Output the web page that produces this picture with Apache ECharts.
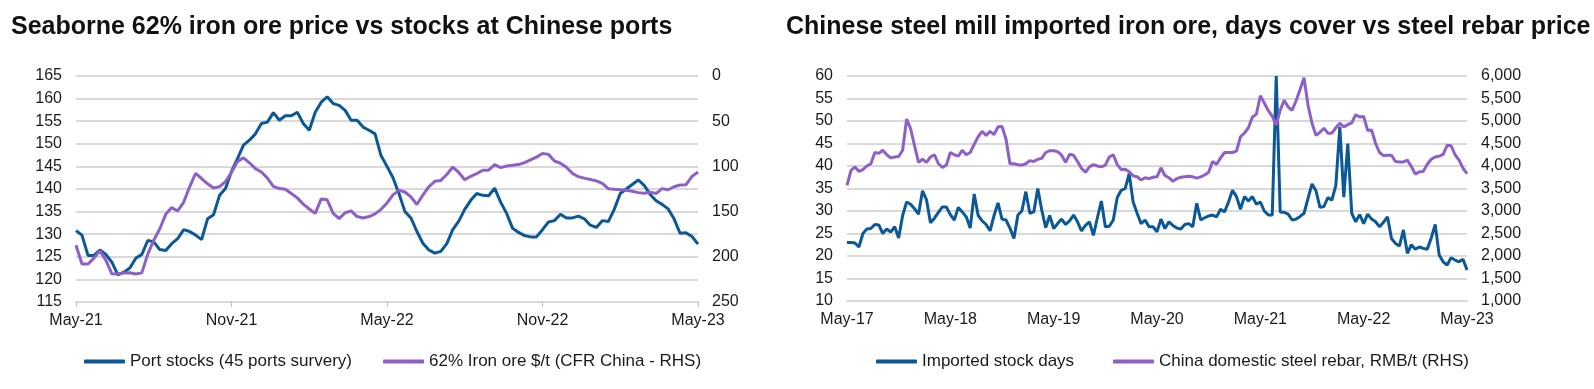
<!DOCTYPE html>
<html><head><meta charset="utf-8">
<script src="https://cdn.jsdelivr.net/npm/echarts@6/dist/echarts.min.js"></script>
<style>html,body{margin:0;padding:0;background:#fff}#c{width:1594px;height:389px}</style>
</head><body><div id="c"></div><script>
const leftTickLabels=['May-21','Nov-21','May-22','Nov-22','May-23'];
const rightTickLabels=['May-17','May-18','May-19','May-20','May-21','May-22','May-23'];

// Weekly, May-21 .. May-23
const portStocks=[130.8,129.8,125.3,125.3,126.5,125.5,123.8,121,121.6,122.5,
124.7,125.5,128.6,128.3,126.6,126.4,127.9,129,131,130.6,
129.8,128.8,133.4,134.3,138.6,140.1,143.9,146.7,149.7,150.8,
152.2,154.5,154.8,156.9,155.2,156.2,156.2,157,154.5,153,
157,159.2,160.4,158.9,158.5,157.4,155.2,155.2,153.7,153,
152.2,147.4,145,142.5,139,135,133.6,130.6,128,126.5,
125.8,126.2,127.9,131,132.9,135.5,137.5,139,138.6,138.5,
140.2,137.1,134.6,131.3,130.4,129.7,129.4,129.4,131,132.7,
133,134.4,133.6,133.6,134,133.4,132,131.5,133,132.8,
135.5,139,140,141,142,140.8,138.8,137.4,136.6,135.6,
133.4,130.2,130.3,129.5,127.8];
const ironOre=[187.3,208,208,201.5,193.4,204,218.8,219,217.8,217.6,
219,217.8,197,181.6,169.3,153,145.6,149.3,139.7,122.6,
107.8,113.4,119.3,123.9,122.4,116.8,106.5,94.7,90.5,96,
102.5,106.2,113,122,124.5,125.2,130,134.8,141.7,147.1,
152,136,137,152,157.8,151.3,149.2,155.5,157,155.5,
152.5,147.5,140.5,131.5,126.5,128.3,133.8,142.1,131.7,122.5,
116.5,115.5,109,100.7,106.7,114.7,110.9,108,104.2,104.2,
98,101.4,99.6,98.8,98,95.9,92.8,89.7,85.8,86.7,
94,96.5,101,107.7,111.4,113,114.4,116,118.7,124.7,
125.4,125.8,126.4,127.4,129,129.8,128.5,130,124.6,125.8,
122.5,120.6,120.2,111,106.2];

// Fortnightly, May-17 .. May-23
const stockDays=[23,23,22.9,22,25,26,26.1,27,26.9,25,
26,25.3,26.5,24,29,32,31.5,30.5,29.3,34.5,
32.5,27.4,28.4,29.7,30.9,30.9,29.2,28,30.8,29.8,
28.7,26.2,33.8,29,27.8,27,25.6,29,31.8,28.2,
28,26.2,23.9,29.1,30,34.3,29.5,29.8,35,30.2,
26.3,29,26.1,27.2,28.2,27,27.8,29.1,27.6,25.6,
26.8,27.6,24.6,28.5,32.2,26.5,26.6,28,33,34.6,
35,38.3,32,29.5,27.2,28,26.5,26.5,25.4,28.2,
26.1,27.6,26.8,26.2,26,27,27.2,26.5,31.7,28,
28.5,28.9,29.1,28.7,30.4,29.8,32,34.6,33.2,30.4,
33.2,32.2,33.2,31.5,32,30,29.1,29.1,60,29.8,
29.7,29.3,28,28.2,28.8,29.5,32.8,36,34.5,30.8,
31,33,32.4,35.7,48.7,33.1,45,29.5,27.6,29.2,
27.2,29.3,28.2,27.6,26.5,27.5,28.7,23.9,22.8,22.2,
25.8,20.6,22.5,21.5,22,21.7,21.5,24,27,20.2,
18.7,18,19.6,19.1,18.7,19.3,16.9];
const rebar=[3570,3900,3980,3880,3920,4000,4050,4300,4280,4350,
4250,4180,4200,4210,4350,5040,4830,4450,4080,4150,
4080,4200,4250,4050,3970,4020,4300,4250,4220,4350,
4250,4300,4480,4650,4770,4680,4770,4700,4870,4880,
4600,4050,4050,4030,4020,4050,4120,4100,4150,4170,
4300,4340,4340,4320,4240,4080,4260,4240,4100,3950,
3860,3980,4030,4000,3980,4020,4200,4250,4030,3920,
3930,3870,3780,3760,3690,3740,3720,3750,3760,3960,
3790,3740,3660,3720,3750,3760,3770,3760,3730,3760,
3800,3860,4100,4040,4180,4300,4300,4300,4330,4650,
4730,4850,5090,5150,5560,5400,5230,5110,4910,5240,
5460,5310,5240,5450,5700,5960,5350,4950,4680,4750,
4840,4730,4730,4850,4950,4870,4920,4960,5140,5090,
5100,4790,4800,4500,4300,4230,4240,4240,4100,4090,
4090,4130,3990,3820,3870,3880,4040,4150,4200,4220,
4260,4460,4450,4250,4130,3950,3830];

function dates(y,m,d,step,n){const a=[];for(let i=0;i<n;i++){a.push(new Date(Date.UTC(y,m,d+step*i)).toISOString().slice(0,10));}return a;}
const leftCats=dates(2021,4,7,7,portStocks.length);
const rightCats=dates(2017,4,5,14,stockDays.length);

const BLUE='#0b5896', PURPLE='#8f5fc8', GRID='#d9d9d9', TXT='#1a1a1a';
const FONT='"Liberation Sans", Arial, sans-serif';
const every26=(i)=>i%26===0;

const chart=echarts.init(document.getElementById('c'),null,{renderer:'canvas'});
function xAx(grid,cats,ticks,showTick){
  return {type:'category',gridIndex:grid,data:cats,boundaryGap:false,position:'bottom',
    axisLine:{show:true,onZero:false,lineStyle:{color:GRID,width:2}},
    axisTick:{show:showTick,interval:every26,length:5,lineStyle:{color:'#bfbfbf',width:1}},
    axisLabel:{interval:every26,margin:11,color:TXT,fontSize:16,fontFamily:FONT,
      formatter:(v,i)=>ticks[Math.round(i/26)]},
    splitLine:{show:false}};
}
function yAx(grid,min,max,step,pos,opts){
  return Object.assign({type:'value',gridIndex:grid,position:pos,min:min,max:max,interval:step,
    axisLine:{show:false},axisTick:{show:false},
    axisLabel:{margin:14,color:TXT,fontSize:16,fontFamily:FONT},
    splitLine:{show:false}},opts||{});
}
const lg=(name,left)=>({data:[name],left:left,top:348,icon:'roundRect',itemWidth:41,itemHeight:4,
  textStyle:{color:TXT,fontSize:17,fontFamily:FONT},selectedMode:false});

chart.setOption({
  animation:false,
  title:[
    {text:'Seaborne 62% iron ore price vs stocks at Chinese ports',left:6,top:10,
     textStyle:{fontSize:25,fontWeight:'bold',color:'#111',fontFamily:FONT}},
    {text:'Chinese steel mill imported iron ore, days cover vs steel rebar price',left:781,top:10,
     textStyle:{fontSize:25,fontWeight:'bold',color:'#111',fontFamily:FONT}}
  ],
  legend:[lg('Port stocks (45 ports survery)',79),lg('62% Iron ore $/t (CFR China - RHS)',378),
          lg('Imported stock days',871),lg('China domestic steel rebar, RMB/t (RHS)',1108)],
  grid:[{left:76,top:76,width:622,height:226},{left:847,top:76,width:620,height:225}],
  xAxis:[xAx(0,leftCats,leftTickLabels,true),xAx(1,rightCats,rightTickLabels,false)],
  yAxis:[
    yAx(0,115,165,5,'left',{splitLine:{show:true,lineStyle:{color:GRID,width:2}}}),
    yAx(0,0,250,50,'right',{inverse:true}),
    yAx(1,10,60,5,'left',{splitLine:{show:true,lineStyle:{color:GRID,width:2}}}),
    yAx(1,1000,6000,500,'right',{axisLabel:{margin:14,color:TXT,fontSize:16,fontFamily:FONT,
      formatter:v=>v.toLocaleString('en-US')}})
  ],
  series:[
    {name:'Port stocks (45 ports survery)',type:'line',xAxisIndex:0,yAxisIndex:0,data:portStocks,
     showSymbol:false,lineStyle:{color:BLUE,width:3},itemStyle:{color:BLUE}},
    {name:'62% Iron ore $/t (CFR China - RHS)',type:'line',xAxisIndex:0,yAxisIndex:1,data:ironOre,
     showSymbol:false,lineStyle:{color:PURPLE,width:3},itemStyle:{color:PURPLE}},
    {name:'Imported stock days',type:'line',xAxisIndex:1,yAxisIndex:2,data:stockDays,
     showSymbol:false,lineStyle:{color:BLUE,width:3},itemStyle:{color:BLUE}},
    {name:'China domestic steel rebar, RMB/t (RHS)',type:'line',xAxisIndex:1,yAxisIndex:3,data:rebar,
     showSymbol:false,lineStyle:{color:PURPLE,width:3},itemStyle:{color:PURPLE}}
  ]
});
</script></body></html>
